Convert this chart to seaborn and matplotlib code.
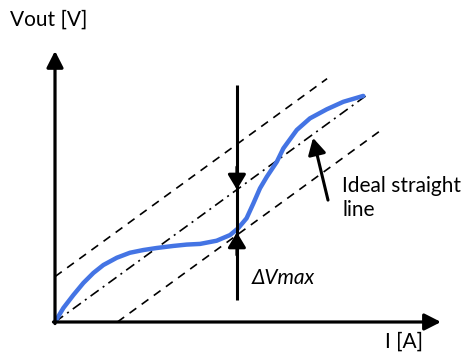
import numpy as np
import pandas as pd
import matplotlib
matplotlib.use("Agg")
import matplotlib.pyplot as plt
import seaborn as sns

# Measured transfer characteristic (current vs output voltage, arbitrary units)
current = [0.00, 0.27, 0.59, 0.91, 1.23, 1.55, 1.98, 2.40, 2.83, 3.26, 3.79,
           4.22, 4.65, 5.18, 5.61, 5.87, 6.14, 6.36, 6.57, 6.79, 7.11, 7.32,
           7.75, 8.17, 8.71, 9.24, 9.88]
vout = [0.00, 0.62, 1.19, 1.72, 2.16, 2.51, 2.83, 3.05, 3.17, 3.26, 3.35,
        3.41, 3.44, 3.58, 3.83, 4.13, 4.57, 5.23, 5.89, 6.40, 7.06, 7.65,
        8.46, 8.97, 9.37, 9.70, 9.96]

# Ideal straight line and its tolerance band
ideal_x = [0.0, 10.0]
ideal_y = [0.0, 10.0]
band = 2.0
upper_x = [0.0, 8.72]
lower_x = [2.0, 10.48]

# Point of maximum deviation
dev_x = 5.83
dev_ideal = 5.83
dev_actual = 3.95
dev_top = 10.44
dev_bottom = 0.97

x_axis_end = 12.37
y_axis_end = 11.94

axis_label_x = "I [A]"
axis_label_y = "Vout [V]"
dev_label = "ΔVmax"
ideal_label = "Ideal straight\nline"

sns.set_theme(style="white")
plt.rcParams["font.family"] = ["Lato", "DejaVu Sans"]

fig = plt.figure(figsize=(4.67, 3.54), dpi=100)
ax = fig.add_axes([0, 0, 1, 1])
ax.set_xlim(-1.763, 13.205)
ax.set_ylim(-1.41, 14.185)
ax.set_axis_off()

# Coordinate axes with arrow heads
arrow_kw = dict(arrowstyle="-|>,head_length=0.55,head_width=0.28", lw=2.3,
                color="black", mutation_scale=18, shrinkA=0, shrinkB=0)
ax.annotate("", xy=(x_axis_end, 0), xytext=(-0.05, 0), arrowprops=arrow_kw)
ax.annotate("", xy=(0, y_axis_end), xytext=(0, -0.07), arrowprops=arrow_kw)

# Tolerance band (dashed) and ideal line (dash-dot)
ax.plot(upper_x, [x + band for x in upper_x], color="black", lw=1.2,
        dashes=(5, 4))
ax.plot(lower_x, [x - band for x in lower_x], color="black", lw=1.2,
        dashes=(5, 4))
ax.plot(ideal_x, ideal_y, color="black", lw=1.2, dashes=(6, 3, 1.2, 3))

# Actual characteristic
df = pd.DataFrame({"I": current, "Vout": vout})
sns.lineplot(data=df, x="I", y="Vout", ax=ax, color="#4474E4", lw=3.2,
             sort=False, estimator=None)
ax.lines[-1].set_solid_joinstyle("round")
ax.lines[-1].set_solid_capstyle("round")
ax.set_xlabel("")
ax.set_ylabel("")

# Maximum deviation marker
ax.plot([dev_x, dev_x], [dev_bottom, dev_top], color="black", lw=2.2,
        solid_capstyle="butt")
head_kw = dict(arrowstyle="-|>,head_length=0.5,head_width=0.3", lw=2.2,
               color="black", mutation_scale=18, shrinkA=0, shrinkB=0)
ax.annotate("", xy=(dev_x, dev_ideal), xytext=(dev_x, dev_ideal + 1.0),
            arrowprops=head_kw)
ax.annotate("", xy=(dev_x, dev_actual), xytext=(dev_x, dev_actual - 1.0),
            arrowprops=head_kw)

# Pointer to the ideal line
ax.annotate("", xy=(8.27, 8.11), xytext=(8.75, 5.37),
            arrowprops=dict(arrowstyle="-|>,head_length=0.55,head_width=0.3",
                            lw=2.2, color="black", mutation_scale=18,
                            shrinkA=0, shrinkB=0))

fs = 15
ax.text(-1.44, 13.3, axis_label_y, fontsize=fs, va="center", ha="left",
        color="black")
ax.text(11.2, -0.88, axis_label_x, fontsize=fs, va="center", ha="center",
        color="black")
ax.text(6.31, 1.94, dev_label, fontsize=fs, va="center", ha="left",
        color="black", style="italic")
ax.text(9.2, 6.45, ideal_label, fontsize=fs, va="top", ha="left",
        color="black", linespacing=1.3)

fig.savefig("out.png", dpi=100)
